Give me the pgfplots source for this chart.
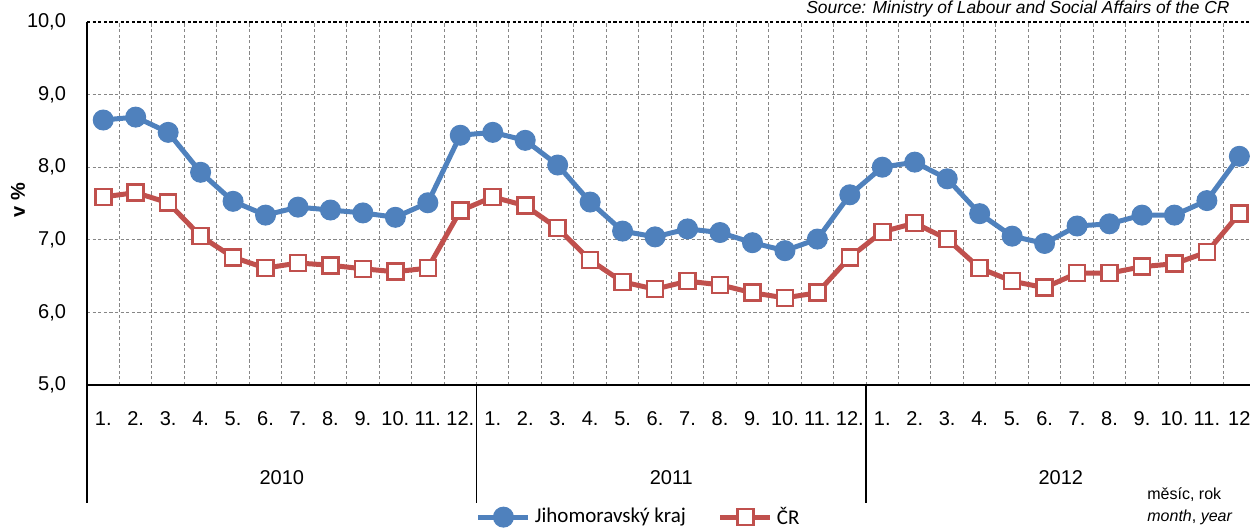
\documentclass[border=0pt]{standalone}
\usepackage{fontspec}
\setmainfont{Liberation Sans}
\newfontfamily\legfont{Carlito}
\usepackage{pgfplots}
\pgfplotsset{compat=1.18}

\definecolor{jmkblue}{HTML}{4F81BD}
\definecolor{crred}{HTML}{C0504D}
\definecolor{gridgray}{HTML}{868686}

\begin{document}
\begin{tikzpicture}
\useasboundingbox (0,0) rectangle (625pt,264.5pt);

\begin{axis}[
  at={(43.5pt,72pt)}, anchor=south west,
  scale only axis, width=584.3pt, height=181.5pt,
  xmin=0.5, xmax=36.5, ymin=5, ymax=10,
  axis x line*=bottom, axis y line*=left,
  axis line style={black, line width=0.7pt, -},
  xtick={1,...,36},
  xticklabels={1.,2.,3.,4.,5.,6.,7.,8.,9.,10.,11.,12.,
               1.,2.,3.,4.,5.,6.,7.,8.,9.,10.,11.,12.,
               1.,2.,3.,4.,5.,6.,7.,8.,9.,10.,11.,12},
  minor xtick={1.5,2.5,...,35.5},
  ytick={5,6,...,10},
  major tick length=0pt, minor tick length=0pt,
  xmajorgrids=false, xminorgrids=true, ymajorgrids=true,
  grid style={gridgray, line width=0.5pt, dash pattern=on 1.6pt off 1.2pt},
  minor grid style={gridgray, line width=0.5pt, dash pattern=on 1.6pt off 1.2pt},
  /pgf/number format/assume math mode=true,
  yticklabel={\pgfmathprintnumber[fixed, fixed zerofill, precision=1, use comma]{\tick}},
  y tick label style={font=\fontsize{10}{12}\selectfont, anchor=east, xshift=-7pt},
  x tick label style={font=\fontsize{10}{12}\selectfont, anchor=center, yshift=-17pt},
  clip=false,
  legend columns=2,
  legend style={at={(0.473,-0.364)}, anchor=center, draw=none, fill=none,
    font=\legfont\fontsize{10.5}{12}\selectfont,
    /tikz/every even column/.append style={column sep=14pt}},
  legend image code/.code={
    \draw[#1, mark repeat=2, mark phase=2] plot coordinates {(0pt,0pt) (12.5pt,0pt) (25pt,0pt)};
  },
]

\addplot[jmkblue, line width=2.5pt, mark=*, mark size=5pt,
  mark options={fill=jmkblue, draw=jmkblue, line width=0.5pt}] coordinates {
(1,8.65) (2,8.69) (3,8.48) (4,7.93) (5,7.53) (6,7.34) (7,7.45) (8,7.41) (9,7.37) (10,7.31) (11,7.51) (12,8.44)
(13,8.48) (14,8.37) (15,8.03) (16,7.52) (17,7.12) (18,7.04) (19,7.15) (20,7.10) (21,6.96) (22,6.85) (23,7.01) (24,7.62)
(25,8.00) (26,8.07) (27,7.84) (28,7.36) (29,7.05) (30,6.95) (31,7.19) (32,7.22) (33,7.34) (34,7.34) (35,7.54) (36,8.15)
};
\addlegendentry{Jihomoravský kraj}

\addplot[crred, line width=2.5pt, mark=square*, mark size=4pt,
  mark options={fill=white, draw=crred, line width=1.3pt}] coordinates {
(1,7.59) (2,7.65) (3,7.51) (4,7.05) (5,6.76) (6,6.61) (7,6.68) (8,6.65) (9,6.60) (10,6.56) (11,6.61) (12,7.40)
(13,7.59) (14,7.47) (15,7.16) (16,6.72) (17,6.42) (18,6.32) (19,6.43) (20,6.38) (21,6.27) (22,6.20) (23,6.27) (24,6.76)
(25,7.11) (26,7.23) (27,7.01) (28,6.61) (29,6.43) (30,6.34) (31,6.54) (32,6.54) (33,6.63) (34,6.67) (35,6.83) (36,7.36)
};
\addlegendentry{ČR}

% top border of the plot area
\draw[black, line width=0.6pt, dash pattern=on 1.6pt off 1.2pt] (axis cs:0.5,10) -- (axis cs:36.5,10);

% year separators and year labels
\pgfplotsinvokeforeach{0.5,12.5,24.5,36.5}{
  \draw[black, line width=0.7pt] (axis cs:#1,5) -- ++(0pt,-59pt);
}
\node[font=\fontsize{10}{12}\selectfont] at ([yshift=-46.5pt]axis cs:6.5,5) {2010};
\node[font=\fontsize{10}{12}\selectfont] at ([yshift=-46.5pt]axis cs:18.5,5) {2011};
\node[font=\fontsize{10}{12}\selectfont] at ([yshift=-46.5pt]axis cs:30.5,5) {2012};
\end{axis}

\node[rotate=90, font=\bfseries\fontsize{10}{12}\selectfont] at (9pt,164.5pt) {v \%};
\node[anchor=north east, inner sep=0pt, font=\itshape\fontsize{8.7}{10}\selectfont] at (615pt,264pt)
  {Source: Ministry of Labour and Social Affairs of the CR};
\node[anchor=west, inner sep=0pt, font=\fontsize{8}{9}\selectfont] at (573.5pt,17pt) {měsíc, rok};
\node[anchor=west, inner sep=0pt, font=\fontsize{8}{9}\selectfont] at (573.5pt,6pt) {\textit{month}, \textit{year}};
\end{tikzpicture}
\end{document}
